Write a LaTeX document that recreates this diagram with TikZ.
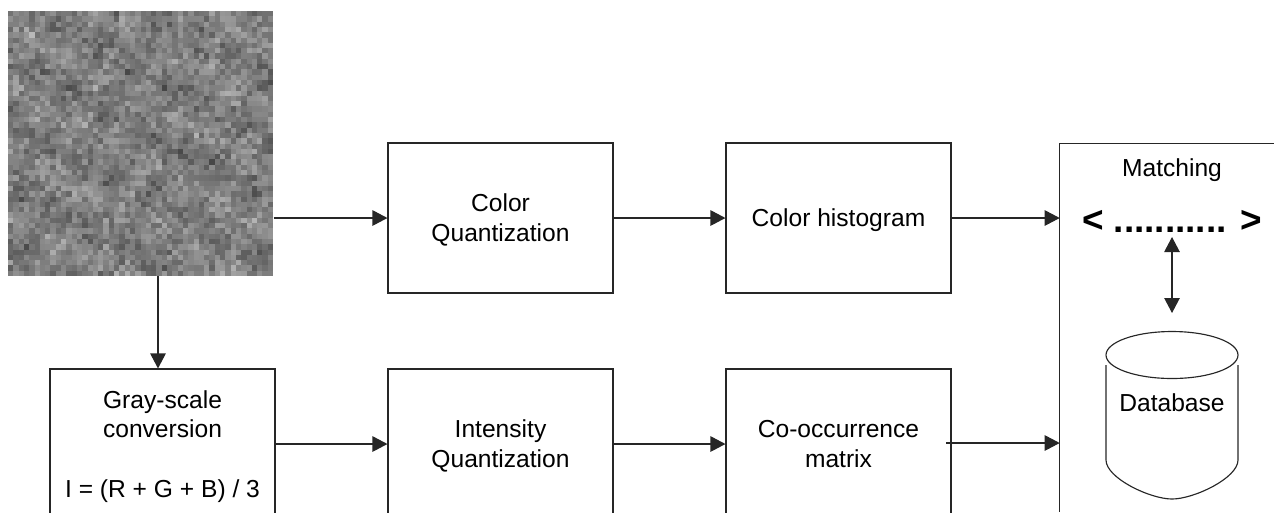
\documentclass[tikz,border=0pt]{standalone}
\usepackage{fontspec}
\setmainfont{Liberation Sans}
\usetikzlibrary{arrows.meta,shapes.geometric}
\colorlet{ink}{black!85}
\tikzset{
  block/.style={draw=ink,minimum width=4.5cm,minimum height=3cm,align=center,inner sep=0pt,font=\fontsize{14}{17}\selectfont},
  flow/.style={draw=ink,-{Triangle[length=0.3cm,width=0.31cm]}},
  both/.style={draw=ink,{Triangle[length=0.3cm,width=0.31cm]}-{Triangle[length=0.3cm,width=0.31cm]}}
}
\begin{document}
\begin{tikzpicture}[x=0.02cm,y=-0.02cm,line width=0.65pt]
      \path[use as bounding box,clip] (0,0) rectangle (1274,512);
      % texture
      \pgfmathsetseed{4711}
      \foreach \i in {0,...,49}{
        \foreach \j in {0,...,49}{
          \pgfmathsetmacro{\shade}{50+13*(rnd+rnd+rnd-1.5)+4*sin(17*\i-31*\j)+3*sin(41*\i+23*\j)}
          \fill[black!\shade] (8+\i*5.3,11+\j*5.3) rectangle +(5.4,5.4);
        }
      }
      \node[minimum width=5.3cm,minimum height=5.3cm,inner sep=0pt] (tex) at (140.5,143) {};
      % top row
      \node[block] (cq) at (500.5,218) {Color\\\smash{Quantization}};
      \node[block] (ch) at (838.5,218) {\rule{0pt}{13pt}Color histogram};
      % bottom row
      \node[block] (gray) at (162.5,444) {Gray-scale\\conversion\\[0.6cm]\smash{I = (R + G + B) / 3}};
      \node[block] (iq) at (500.5,444) {Intensity\\\smash{Quantization}};
      \node[block] (co) at (838.5,444) {Co-occurrence\\\smash{matrix}};
      % matching
      \draw[ink] (1274,143.5) -- (1059.7,143.5) -- (1059.7,512);
      \coordinate (match) at (1059.7,143.5);
      \node[font=\fontsize{14}{17}\selectfont] (mt) at (1172,170.5) {Matching};
      \node[font=\fontsize{21}{24}\selectfont\bfseries] (vec) at (1172,221) {< ........... >};
      % database
      \node[draw=ink,ellipse,minimum width=2.64cm,minimum height=0.94cm,inner sep=0pt] (db) at (1172,355) {};
      \node[font=\fontsize{14}{17}\selectfont] (dbt) at (1172,403) {Database};
      \draw[ink] (1106,365) -- (1106,460) .. controls (1106,478) and (1150,499) .. (1172,499)
            .. controls (1194,499) and (1238,478) .. (1238,460) -- (1238,365);
      % arrows
      \coordinate (down) at (158,300);
      \coordinate (start) at (946,443);
      \coordinate (up) at (1172,237);
      \coordinate (low) at (1172,313);
      \draw[flow] (tex.east |- cq.west) -- (cq.west);
      \draw[flow] (cq) -- (ch);
      \draw[flow] (ch.east) -- (ch.east -| match);
      \draw[flow] (down |- tex.south) -- (down |- gray.north);
      \draw[flow] (gray) -- (iq);
      \draw[flow] (iq) -- (co);
      \draw[flow] (start) -- (start -| match);
      \draw[both] (up) -- (low);
    \end{tikzpicture}
\end{document}
